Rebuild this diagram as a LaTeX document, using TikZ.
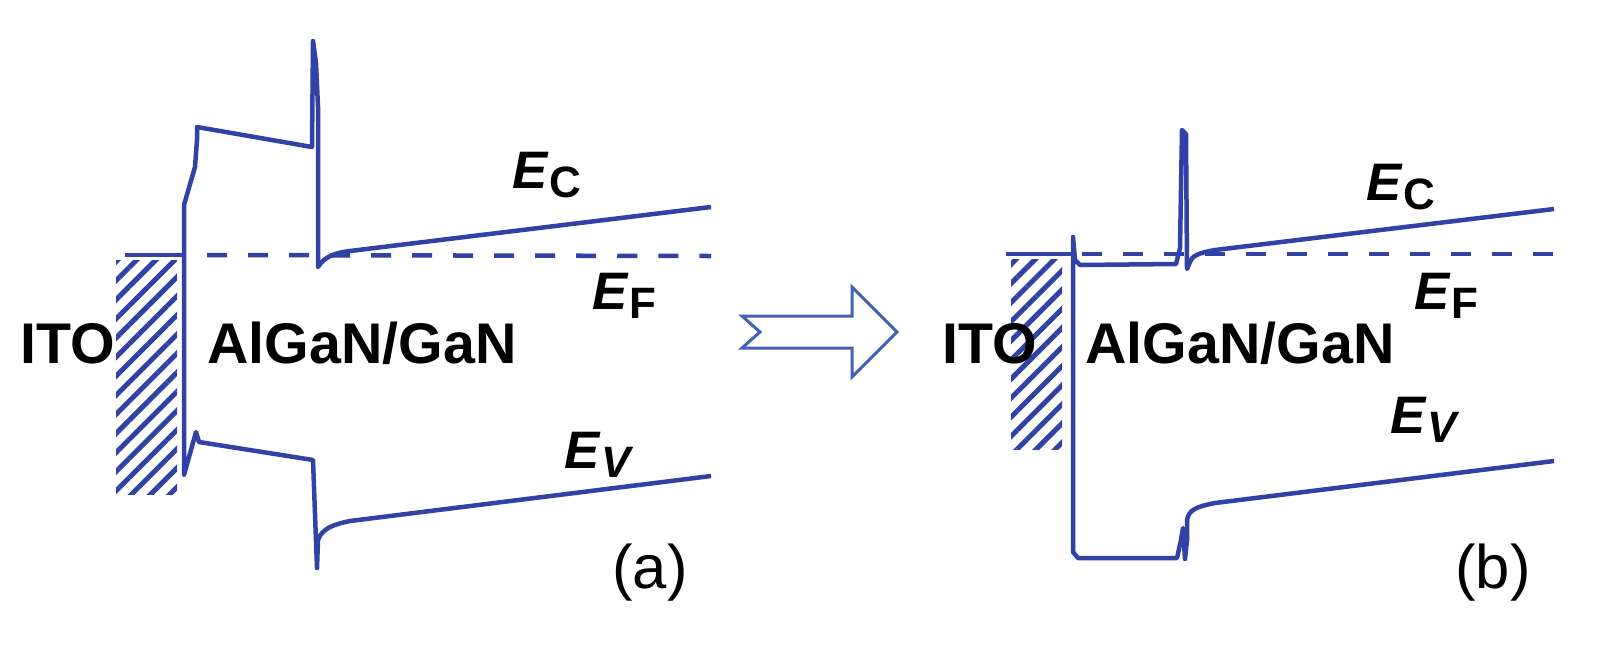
\documentclass[tikz,border=0pt]{standalone}
\usepackage{fontspec}
\setmainfont{Liberation Sans}
\usepackage{tikz}
\usetikzlibrary{patterns.meta}
\definecolor{bandblue}{RGB}{48,66,165}
\definecolor{arrowblue}{RGB}{66,98,178}
\newcommand{\Elvl}[1]{\textit{E}\raisebox{-2.6pt}{\fontsize{12.5}{14}\selectfont #1}}

\begin{document}
\begin{tikzpicture}[x=0.01cm,y=-0.01cm,
  band/.style={draw=bandblue,line width=0.045cm,line join=round},
  fermi/.style={band,dash pattern=on 0.2cm off 0.21cm},
  hatch/.style={pattern={Lines[angle=45,distance=0.135cm,line width=0.05cm]},pattern color=bandblue},
  lbl/.style={font=\fontsize{16.3}{19}\selectfont\bfseries,anchor=base,inner sep=0pt},
  lvl/.style={font=\fontsize{15}{17}\selectfont\bfseries,anchor=base west,inner sep=0pt},
  tag/.style={font=\fontsize{17.5}{20}\selectfont,anchor=base,inner sep=0pt}]
	\useasboundingbox (0,0) rectangle (1600,645);
	\fill[hatch] (116,260) rectangle (177,494);
	\fill[hatch] (1011,259) rectangle (1062,449);
	\draw[band] (125,255) -- (184,255);
	\draw[fermi] (207,255) -- (711,256);
	\draw[band] (711,207) -- (350,251) .. controls (335,253) and (325,256) .. (318,267) -- (318,107) -- (316,63) -- (313,41) -- (312,147) -- (197,127) -- (197,140) -- (195,167) -- (184,205) -- (184,475) -- (196,432) -- (199,442) -- (313,460) -- (317,568) -- (318,540) .. controls (322,528) and (335,524) .. (350,521) -- (711,476);
	\draw[band] (1006,254) -- (1073,254);
	\draw[fermi] (1082,254) -- (1554,254);
	\draw[band] (1554,209) -- (1215,250) .. controls (1198,253) and (1192,256) .. (1190,262) -- (1187,269) -- (1186,134) -- (1182,130) -- (1180,248) -- (1176,264) -- (1080,265) -- (1075,260) -- (1073,237) -- (1073,552) -- (1078,558) -- (1177,558) -- (1181,540) -- (1183,528) -- (1185,559) -- (1187,540) -- (1187,520) .. controls (1189,510) and (1195,507) .. (1215,503) -- (1554,461);
	\draw[arrowblue,line width=0.03cm] (742,316) -- (852,316) -- (852,287) -- (897,332) -- (852,377) -- (852,348) -- (742,348) -- (760,332) -- cycle;
	\node[lbl] (itoa) at (68,363) {ITO};
	\node[lbl] (gana) at (362,363) {AlGaN/GaN};
	\node[lvl] (eca) at (512,188) {\Elvl{C}};
	\node[lvl] (efa) at (592,309) {\Elvl{F}};
	\node[lvl] (eva) at (564,468) {\Elvl{\textit{V}}};
	\node[tag] (taga) at (650,588) {(a)};
	\node[lbl] (itob) at (990,363) {ITO};
	\node[lbl] (ganb) at (1240,363) {AlGaN/GaN};
	\node[lvl] (ecb) at (1366,200) {\Elvl{C}};
	\node[lvl] (efb) at (1414,309) {\Elvl{F}};
	\node[lvl] (evb) at (1390,433) {\Elvl{\textit{V}}};
	\node[tag] (tagb) at (1493,588) {(b)};
\end{tikzpicture}
\end{document}
